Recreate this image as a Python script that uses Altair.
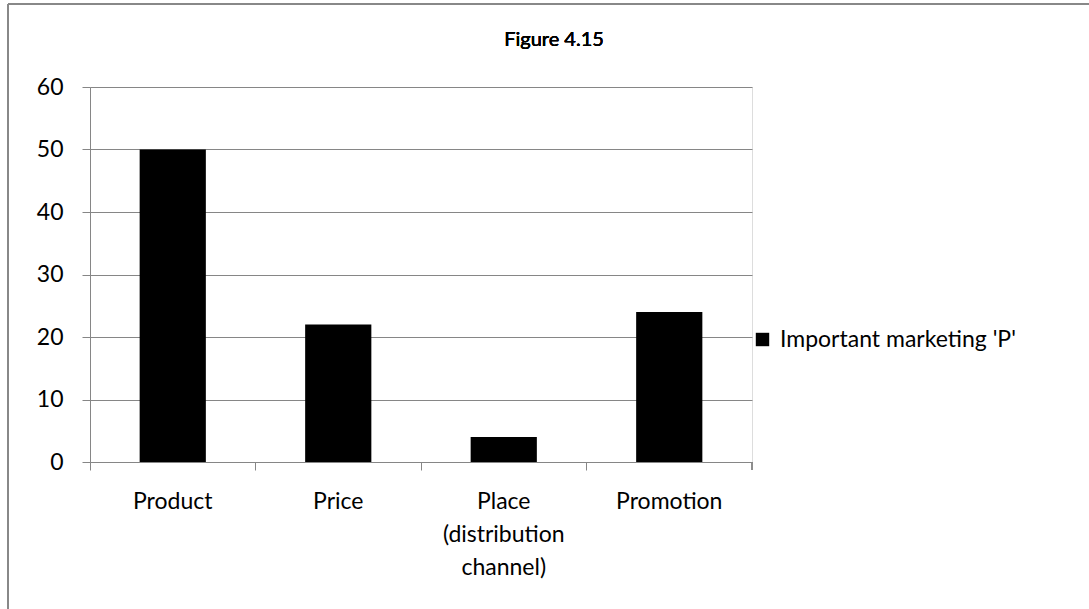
import altair as alt
import pandas as pd

categories = ["Product", "Price", "Place\n(distribution\nchannel)", "Promotion"]
values = [50, 22, 4, 24]
series = ["Important marketing 'P'"] * 4
title_text = "Figure 4.15"

df = pd.DataFrame({"cat": categories, "val": values, "series": series})

FONT = "Lato"
GRID = "#868686"
W, H = 662, 375
FS = 23

bars = alt.Chart(df).mark_bar(width={"band": 0.4}, color="black").encode(
    x=alt.X("cat:N", sort=categories, title=None,
            scale=alt.Scale(paddingInner=0, paddingOuter=0),
            axis=alt.Axis(bandPosition=0, labelAngle=0, labelFontSize=FS, labelFont=FONT,
                          labelColor="black", labelPadding=20, tickSize=8, tickColor=GRID,
                          domainColor=GRID, labelExpr="split(datum.value, '\\n')",
                          labelLineHeight=33, labelBaseline="top", grid=False,
                          labelLimit=0)),
    y=alt.Y("val:Q", title=None,
            scale=alt.Scale(domain=[0, 60]),
            axis=alt.Axis(values=[0, 10, 20, 30, 40, 50, 60], labelFontSize=FS, labelFont=FONT,
                          labelColor="black", labelPadding=19, tickSize=8, tickColor=GRID,
                          domainColor=GRID, gridColor=GRID, gridOpacity=1, grid=True)),
    color=alt.Color("series:N", title=None,
                    scale=alt.Scale(range=["black"]),
                    legend=alt.Legend(orient="none", legendX=661, legendY=241,
                                      symbolType="square", symbolSize=180,
                                      symbolStrokeWidth=0, labelLimit=0,
                                      labelFontSize=FS, labelFont=FONT, labelColor="black",
                                      labelOffset=6)),
)

title = alt.Chart(df).mark_text(text=title_text, font=FONT, fontSize=20, fontWeight=400,
                                color="black", align="center", baseline="alphabetic").encode(
    x=alt.value(464), y=alt.value(-41))

tick_end = alt.Chart(df).mark_rule(color=GRID).encode(
    x=alt.value(W), y=alt.value(H), y2=alt.value(H + 8))

border_left = alt.Chart(df).mark_rule(color="#888888", strokeWidth=2).encode(
    x=alt.value(-82), y=alt.value(-83), y2=alt.value(H + 200))
border_top = alt.Chart(df).mark_rule(color="#888888", strokeWidth=2).encode(
    y=alt.value(-83), x=alt.value(-82), x2=alt.value(W + 400))

chart = alt.layer(bars, tick_end, border_left, border_top, title).properties(
    width=W, height=H,
    autosize=alt.AutoSizeParams(type="none"),
    padding={"left": 90, "top": 87, "right": 337, "bottom": 147},
).configure_view(stroke=None).configure(background="white")

chart.save("out.html", embed_options={"renderer": "svg", "actions": False})
